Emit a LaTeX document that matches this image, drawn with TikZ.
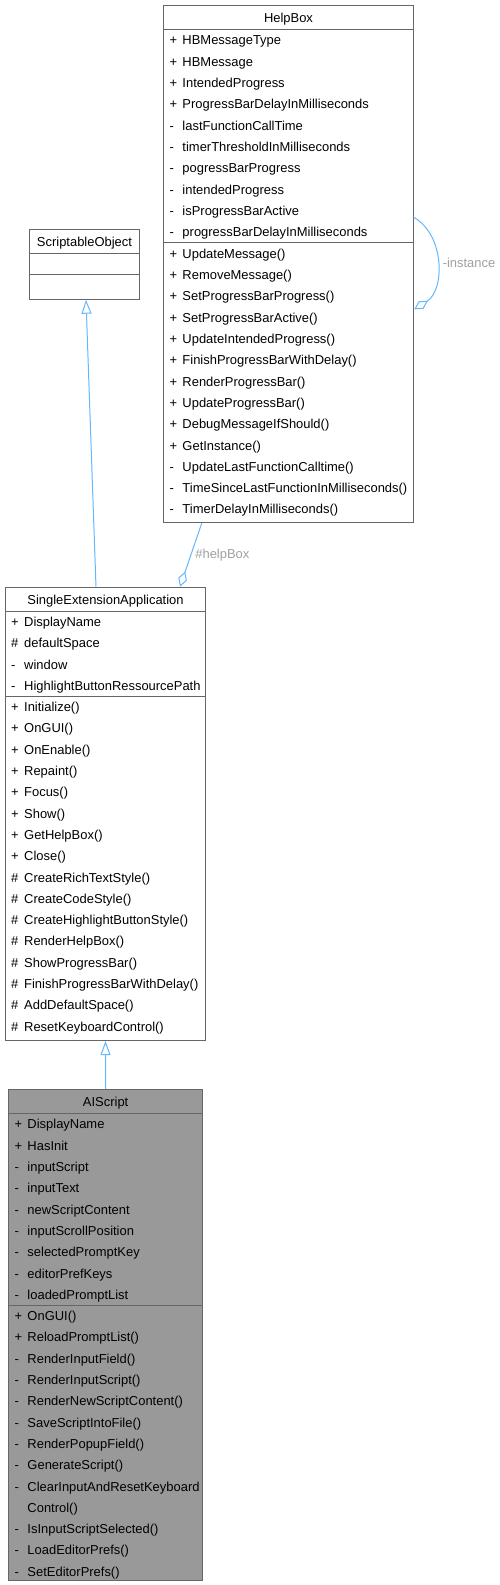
\documentclass[tikz,border=0pt]{standalone}
\usepackage{fontspec}
\setmainfont{Liberation Sans}
\usepackage{xcolor}
\usepackage{tikz}
\usetikzlibrary{arrows.meta,calc}

\definecolor{edgeblue}{HTML}{63B8FF}
\definecolor{boxgray}{HTML}{666666}
\definecolor{labelgray}{HTML}{A0A0A0}
\definecolor{fillgray}{HTML}{999999}

\newcommand{\umlfont}{\fontsize{12.95}{15}\selectfont}

% rows of one compartment: name prefix, left of box, y of separator, list
\newcommand{\umlrows}[4]{%
  \foreach \s/\m [count=\i from 0] in {#4}
    \node[member] (#1\i) at ({#2+6},{#3+15.6+21.3*\i}) {\makebox[13pt][l]{\s}\m};%
}

\begin{document}
\begin{tikzpicture}[x=1pt, y=-1pt,
    classbox/.style={draw=boxgray, line width=1pt, fill=white, inner sep=0pt, anchor=north west},
    member/.style={anchor=base west, inner sep=0pt, font=\umlfont},
    classname/.style={anchor=base, inner sep=0pt, font=\umlfont},
    sepline/.style={draw=boxgray, line width=1pt},
    inherit/.style={draw=edgeblue, line width=1pt, -{Triangle[length=14pt, width=10pt, fill=white]}},
    aggregate/.style={draw=edgeblue, line width=1pt, -{Diamond[length=16pt, width=9pt, fill=white]}},
    edgelabel/.style={font=\umlfont, text=labelgray, inner sep=0pt, anchor=west}]
  \fill[white] (0,0) rectangle (499,1585);
  \useasboundingbox (0,0) rectangle (499,1585);

  % --- HelpBox ---
  \node[classbox, minimum width=249.4pt, minimum height=517.3pt] (helpbox) at (163.3,5) {};
  \foreach \d in {24.3,237.7}
    \draw[sepline] ($(helpbox.north west)+(0,\d)$) -- ($(helpbox.north east)+(0,\d)$);
  \node[classname] (helpbox-name) at ($(helpbox.north)+(0,17.6)$) {HelpBox};
  \umlrows{hba}{163.3}{29.3}{+/HBMessageType, +/HBMessage, +/IntendedProgress,
    +/ProgressBarDelayInMilliseconds, -/lastFunctionCallTime, -/timerThresholdInMilliseconds,
    -/pogressBarProgress, -/intendedProgress, -/isProgressBarActive,
    -/progressBarDelayInMilliseconds}
  \umlrows{hbo}{163.3}{242.7}{+/UpdateMessage(), +/RemoveMessage(), +/SetProgressBarProgress(),
    +/SetProgressBarActive(), +/UpdateIntendedProgress(), +/FinishProgressBarWithDelay(),
    +/RenderProgressBar(), +/UpdateProgressBar(), +/DebugMessageIfShould(), +/GetInstance(),
    -/UpdateLastFunctionCalltime(), -/TimeSinceLastFunctionInMilliseconds(),
    -/TimerDelayInMilliseconds()}

  % --- ScriptableObject ---
  \node[classbox, minimum width=109.4pt, minimum height=69.7pt] (sobj) at (29.3,229) {};
  \foreach \d in {24.3,45.7}
    \draw[sepline] ($(sobj.north west)+(0,\d)$) -- ($(sobj.north east)+(0,\d)$);
  \node[classname] (sobj-name) at ($(sobj.north)+(0,17.4)$) {ScriptableObject};

  % --- SingleExtensionApplication ---
  \node[classbox, minimum width=200pt, minimum height=453.3pt] (sea) at (5,586.7) {};
  \foreach \d in {24.3,109.3}
    \draw[sepline] ($(sea.north west)+(0,\d)$) -- ($(sea.north east)+(0,\d)$);
  \node[classname] (sea-name) at ($(sea.north)+(0,17.8)$) {SingleExtensionApplication};
  \umlrows{seaa}{5}{611}{+/DisplayName, \#/defaultSpace, -/window,
    -/HighlightButtonRessourcePath}
  \umlrows{seao}{5}{696}{+/Initialize(), +/OnGUI(), +/OnEnable(), +/Repaint(), +/Focus(),
    +/Show(), +/GetHelpBox(), +/Close(), \#/CreateRichTextStyle(), \#/CreateCodeStyle(),
    \#/CreateHighlightButtonStyle(), \#/RenderHelpBox(), \#/ShowProgressBar(),
    \#/FinishProgressBarWithDelay(), \#/AddDefaultSpace(), \#/ResetKeyboardControl()}

  % --- AIScript ---
  \node[classbox, fill=fillgray, minimum width=193.7pt, minimum height=491pt] (ais) at (8.3,1089) {};
  \foreach \d in {24.3,216}
    \draw[sepline] ($(ais.north west)+(0,\d)$) -- ($(ais.north east)+(0,\d)$);
  \node[classname] (ais-name) at ($(ais.north)+(0,17.8)$) {AIScript};
  \umlrows{aisa}{8.3}{1113.3}{+/DisplayName, +/HasInit, -/inputScript, -/inputText,
    -/newScriptContent, -/inputScrollPosition, -/selectedPromptKey, -/editorPrefKeys,
    -/loadedPromptList}
  \umlrows{aiso}{8.3}{1305}{+/OnGUI(), +/ReloadPromptList(), -/RenderInputField(),
    -/RenderInputScript(), -/RenderNewScriptContent(), -/SaveScriptIntoFile(),
    -/RenderPopupField(), -/GenerateScript(), -/ClearInputAndResetKeyboard, {}/Control(),
    -/IsInputScriptSelected(), -/LoadEditorPrefs(), -/SetEditorPrefs()}

  % --- relations ---
  \draw[inherit] ($(sea.north west)+(91,0)$) -- ($(sobj.south west)+(56.7,0)$);
  \draw[inherit] (ais.north) -- (sea.south);
  \draw[aggregate] ($(helpbox.south west)+(38.4,0)$) -- ($(sea.north west)+(175,0)$)
    node[edgelabel, pos=0.5, xshift=4pt] (helpbox-label) {\#helpBox};
  \draw[aggregate] ($(helpbox.north east)+(0,212.3)$)
    .. controls ($(helpbox.north east)+(31.3,230)$) and ($(helpbox.north east)+(31.3,285)$)
    .. ($(helpbox.north east)+(0.6,304.3)$)
    node[edgelabel, pos=0.5, xshift=5pt] (instance-label) {-instance};
\end{tikzpicture}
\end{document}
